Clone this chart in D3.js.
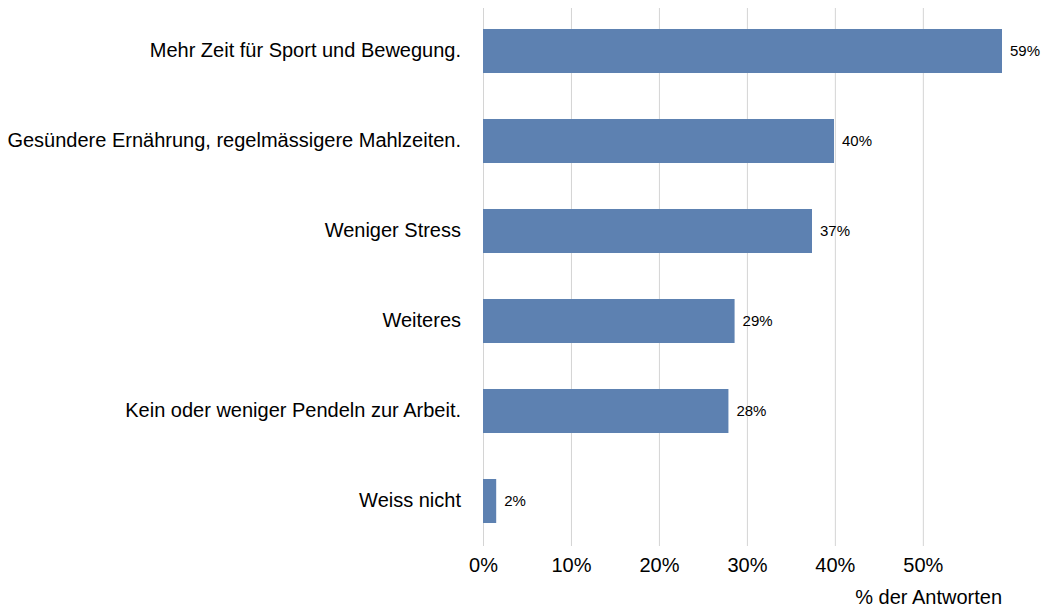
<!DOCTYPE html>
<html>
<head>
<meta charset="utf-8">
<script src="https://cdn.jsdelivr.net/npm/d3@7"></script>
<style>
  body { margin: 0; background: #fff; }
  svg text { font-family: "Liberation Sans", Arial, sans-serif; fill: #000; }
</style>
</head>
<body>
<div id="chart"></div>
<script>
// data
var categories = [
  "Mehr Zeit für Sport und Bewegung.",
  "Gesündere Ernährung, regelmässigere Mahlzeiten.",
  "Weniger Stress",
  "Weiteres",
  "Kein oder weniger Pendeln zur Arbeit.",
  "Weiss nicht"
];
var values = [59.0, 39.9, 37.4, 28.6, 27.9, 1.5];
var tickValues = [0, 10, 20, 30, 40, 50];
var axisTitle = "% der Antworten";

var barColor = "#5d81b1";
var gridColor = "#d4d4d4";

const width = 1048, height = 608;

const svg = d3.select("#chart")
  .append("svg")
  .attr("width", width)
  .attr("height", height);

// scales
const x = d3.scaleLinear()
  .domain([0, 59])
  .range([483, 1002]);

const y = d3.scaleBand()
  .domain(categories)
  .range([6, 546])
  .paddingInner(0.511)
  .paddingOuter(0.2555);

// grid lines
svg.append("g")
  .selectAll("line")
  .data(tickValues)
  .enter()
  .append("line")
  .attr("x1", d => x(d) + 0.5)
  .attr("x2", d => x(d) + 0.5)
  .attr("y1", 8)
  .attr("y2", 546)
  .attr("stroke", gridColor)
  .attr("stroke-width", 1);

// x axis labels
svg.append("g")
  .attr("transform", "translate(0,546)")
  .call(d3.axisBottom(x).tickValues(tickValues).tickSize(0).tickPadding(12).tickFormat(d => d + "%"))
  .call(g => g.select(".domain").remove())
  .selectAll("text")
  .style("font-family", "Liberation Sans, Arial, sans-serif")
  .style("font-size", "20px")
  .attr("fill", "#000");

// y labels
svg.append("g")
  .attr("transform", "translate(483,0)")
  .call(d3.axisLeft(y).tickSize(0).tickPadding(22))
  .call(g => g.select(".domain").remove())
  .selectAll("text")
  .style("font-family", "Liberation Sans, Arial, sans-serif")
  .style("font-size", "20px")
  .attr("fill", "#000");

// bars
svg.append("g")
  .selectAll("rect")
  .data(values)
  .enter()
  .append("rect")
  .attr("x", x(0))
  .attr("y", (d, i) => y(categories[i]))
  .attr("width", d => x(d) - x(0))
  .attr("height", y.bandwidth())
  .attr("fill", barColor);

// value labels
svg.append("g")
  .selectAll("text")
  .data(values)
  .enter()
  .append("text")
  .attr("x", d => x(d) + 8)
  .attr("y", (d, i) => y(categories[i]) + y.bandwidth() / 2)
  .attr("dy", "0.35em")
  .style("font-size", "15px")
  .text(d => d3.format(".0f")(d) + "%");

// axis title
svg.append("text")
  .attr("x", 1002)
  .attr("y", 604)
  .attr("text-anchor", "end")
  .style("font-size", "20px")
  .text(axisTitle);
</script>
</body>
</html>
